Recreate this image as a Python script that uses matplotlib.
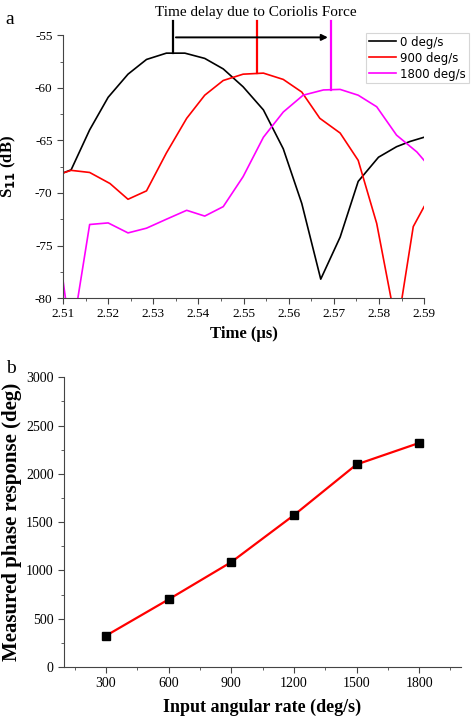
import matplotlib
matplotlib.use("Agg")
import matplotlib.pyplot as plt
from matplotlib.ticker import MultipleLocator
import numpy as np

SERIF = ["Liberation Serif", "DejaVu Serif"]

# ---- Panel a data ----
t_black = [2.5100, 2.5118, 2.5159, 2.5200, 2.5244, 2.5285, 2.5329, 2.5370, 2.5414,
           2.5455, 2.5499, 2.5544, 2.5588, 2.5629, 2.5671, 2.5714, 2.5754, 2.5799,
           2.5839, 2.5869, 2.5900]
s_black = [-68.1, -67.8, -64.0, -60.9, -58.7, -57.3, -56.7, -56.7, -57.2,
           -58.2, -59.9, -62.1, -65.8, -71.0, -78.2, -74.2, -68.9, -66.6,
           -65.6, -65.1, -64.7]

t_red = [2.5100, 2.5118, 2.5159, 2.5204, 2.5244, 2.5285, 2.5329, 2.5374, 2.5414,
         2.5455, 2.5499, 2.5544, 2.5588, 2.5629, 2.5669, 2.5714, 2.5754, 2.5795,
         2.5840, 2.5876, 2.5900]
s_red = [-68.1, -67.85, -68.05, -69.1, -70.6, -69.8, -66.2, -62.9, -60.7,
         -59.3, -58.7, -58.6, -59.2, -60.4, -62.9, -64.3, -66.9, -72.9,
         -83.0, -73.2, -71.3]

t_mag = [2.5100, 2.5118, 2.5159, 2.5200, 2.5244, 2.5285, 2.5329, 2.5374, 2.5414,
         2.5455, 2.5499, 2.5544, 2.5588, 2.5632, 2.5677, 2.5714, 2.5754, 2.5795,
         2.5839, 2.5884, 2.5900]
s_mag = [-78.3, -84.0, -73.0, -72.85, -73.8, -73.35, -72.5, -71.65, -72.2,
         -71.3, -68.45, -64.7, -62.3, -60.7, -60.2, -60.15, -60.7, -61.8,
         -64.5, -66.1, -66.9]

labels_a = ["0 deg/s", "900 deg/s", "1800 deg/s"]
colors_a = ["#000000", "#ff0000", "#ff00ff"]
peak_t = [2.5344, 2.5529, 2.5693]
peak_s = [-56.7, -58.6, -60.2]

# ---- Panel b data ----
rate = [300, 600, 900, 1200, 1500, 1800]
phase = [324, 700, 1086, 1572, 2097, 2320]

fig = plt.figure(figsize=(4.72, 7.2), dpi=100)

# ---------------- Panel a ----------------
ax1 = fig.add_axes([0.1335, 0.586, 0.765, 0.365])
for t, s, c, lab in zip([t_black, t_red, t_mag], [s_black, s_red, s_mag], colors_a, labels_a):
    ax1.plot(t, s, color=c, lw=1.2, label=lab)
ax1.set_xlim(2.51, 2.59)
ax1.set_ylim(-80, -55)
for sp in ["top", "right"]:
    ax1.spines[sp].set_visible(False)
for sp in ["left", "bottom"]:
    ax1.spines[sp].set_color("#444444")
ax1.xaxis.set_minor_locator(MultipleLocator(0.005))
ax1.yaxis.set_minor_locator(MultipleLocator(2.5))
ax1.tick_params(which="both", direction="out", color="#444444")
ax1.tick_params(which="major", length=4)
ax1.tick_params(which="minor", length=2)
xt = np.round(np.arange(2.51, 2.5901, 0.01), 2)
ax1.set_xticks(xt)
ax1.set_xticklabels(["%.2f" % v for v in xt], fontfamily=SERIF, fontsize=9.5)
ax1.set_yticks(np.arange(-80, -54, 5))
ax1.set_yticklabels([str(v) for v in range(-80, -54, 5)], fontfamily=SERIF, fontsize=9.5)
ax1.set_xlabel("Time (μs)", fontfamily=SERIF, fontweight="bold", fontsize=12, labelpad=4)
ax1.set_ylabel("S$_{\\mathbf{11}}$ (dB)", fontfamily=SERIF, fontweight="bold", fontsize=12, labelpad=12)

# delay markers
top_y = -53.6
for pt, ps, c in zip(peak_t, peak_s, colors_a):
    ax1.plot([pt, pt], [ps, top_y], color=c, lw=1.6, clip_on=False)
ax1.annotate("", xy=(peak_t[2], -55.2), xytext=(peak_t[0], -55.2),
             arrowprops=dict(arrowstyle="-|>", color="black", lw=1.4, mutation_scale=9),
             annotation_clip=False)
fig.text(0.543, 0.992, "Time delay due to Coriolis Force", ha="center", va="top",
         fontfamily=SERIF, fontsize=11)

leg = ax1.legend(loc="upper left", bbox_to_anchor=(0.84, 1.01), frameon=True, fancybox=False,
                 edgecolor="#cccccc", fontsize=8.5, handlelength=2.3, handletextpad=0.3,
                 borderpad=0.25, labelspacing=0.25, borderaxespad=0)
leg.get_frame().set_linewidth(0.8)
fig.text(0.012, 0.985, "a", fontfamily=SERIF, fontsize=14, va="top")

# ---------------- Panel b ----------------
ax2 = fig.add_axes([0.136, 0.0736, 0.8405, 0.4024])
ax2.plot(rate, phase, color="#ff0000", lw=1.6, marker="s", markersize=6,
         markerfacecolor="black", markeredgecolor="black")
ax2.set_xlim(100, 2000)
ax2.set_ylim(0, 3000)
for sp in ["top", "right"]:
    ax2.spines[sp].set_visible(False)
for sp in ["left", "bottom"]:
    ax2.spines[sp].set_color("#444444")
ax2.set_xticks(rate)
ax2.set_xticklabels([str(v) for v in rate], fontfamily=SERIF, fontsize=10)
ax2.xaxis.set_minor_locator(MultipleLocator(300, offset=150))
ax2.set_yticks(range(0, 3001, 500))
ax2.set_yticklabels([str(v) for v in range(0, 3001, 500)], fontfamily=SERIF, fontsize=10)
ax2.yaxis.set_minor_locator(MultipleLocator(250))
ax2.tick_params(which="both", direction="out", color="#444444")
ax2.tick_params(which="major", length=4)
ax2.tick_params(which="minor", length=2)
ax2.set_xlabel("Input angular rate (deg/s)", fontfamily=SERIF, fontweight="bold", fontsize=13, labelpad=6)
ax2.set_ylabel("Measured phase response (deg)", fontfamily=SERIF, fontweight="bold", fontsize=15, labelpad=3)
fig.text(0.012, 0.5, "b", fontfamily=SERIF, fontsize=14, va="top")

fig.savefig("out.png", dpi=100)
